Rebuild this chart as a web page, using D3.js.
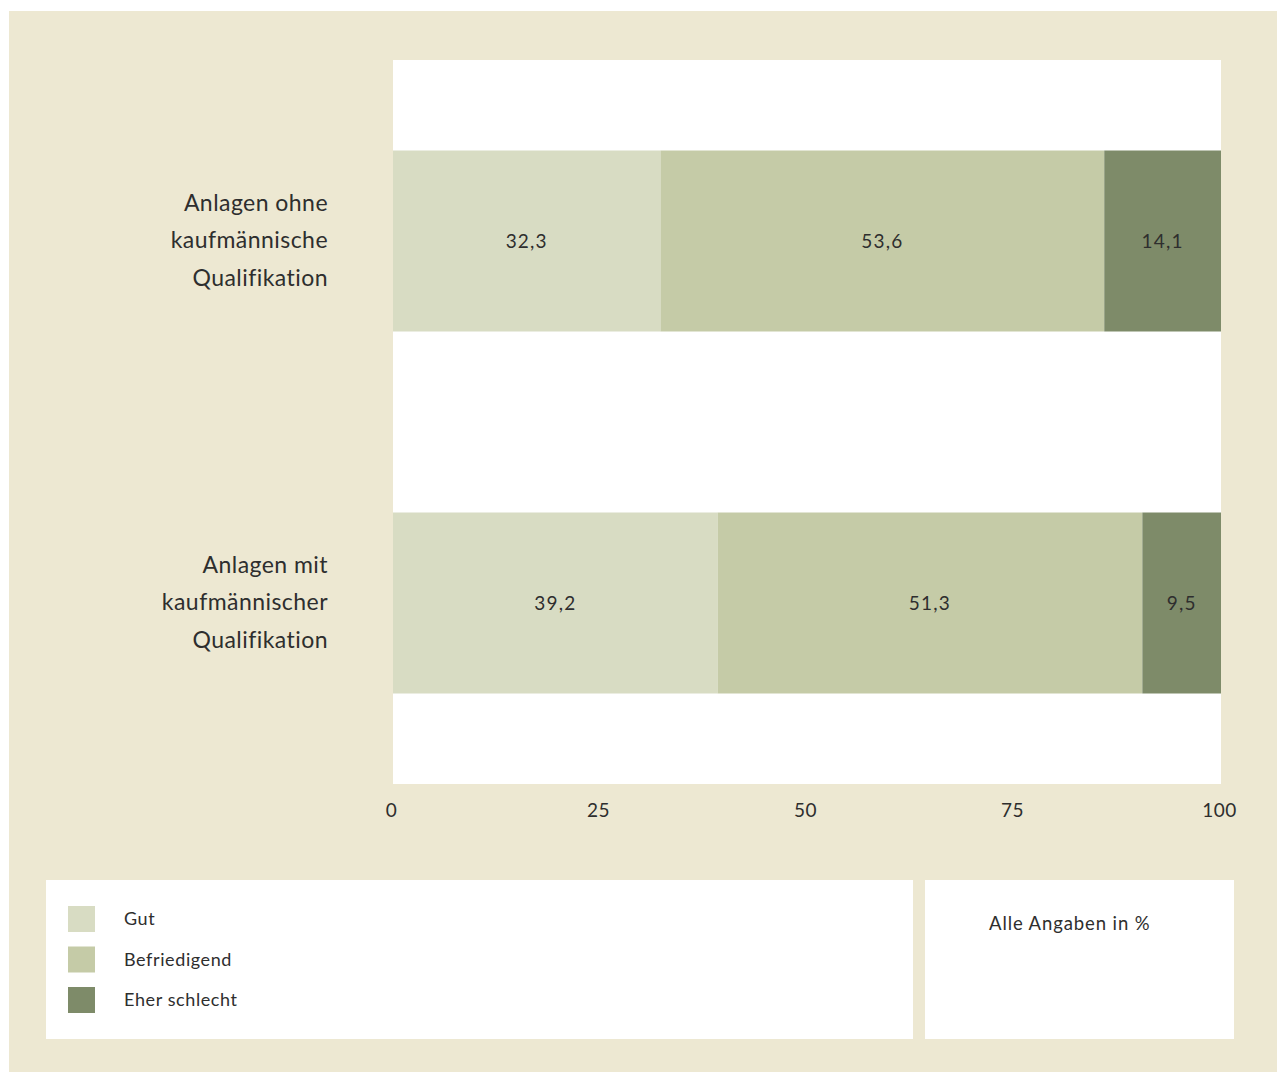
<!DOCTYPE html>
<html>
<head>
<meta charset="utf-8">
<script src="https://cdn.jsdelivr.net/npm/d3@7"></script>
<style>
  html, body { margin: 0; padding: 0; background: #ffffff; }
  svg { display: block; }
  text { font-family: "Lato", "Open Sans", sans-serif; fill: #2e2e2e; }
</style>
</head>
<body>
<svg id="chart" width="1277" height="1072"></svg>
<script>
// Rating shares per group (percent)
const categories = [
  ["Anlagen ohne", "kaufmännische", "Qualifikation"],
  ["Anlagen mit", "kaufmännischer", "Qualifikation"]
];
const seriesNames = ["Gut", "Befriedigend", "Eher schlecht"];
const gut = [32.3, 39.2];
const befriedigend = [53.6, 51.3];
const eherSchlecht = [14.1, 9.5];
const tickValues = [0, 25, 50, 75, 100];
const colors = ["#d8dcc3", "#c5cba7", "#7e8b69"];
const note = "Alle Angaben in %";

const series = [gut, befriedigend, eherSchlecht];
const rows = categories.map((c, i) => ({
  key: i,
  label: c,
  values: series.map(s => s[i])
}));

const svg = d3.select("#chart");

// page background panel
svg.append("rect")
  .attr("x", 9).attr("y", 11)
  .attr("width", 1277 - 9).attr("height", 1072 - 11)
  .attr("fill", "#ede8d2");

const plot = { left: 393, right: 1221, top: 60, bottom: 784 };

svg.append("rect")
  .attr("x", plot.left).attr("y", plot.top)
  .attr("width", plot.right - plot.left).attr("height", plot.bottom - plot.top)
  .attr("fill", "#ffffff");

const x = d3.scaleLinear().domain([0, 100]).range([plot.left, plot.right]);
const y = d3.scaleBand()
  .domain(rows.map(r => r.key))
  .range([plot.top, plot.bottom])
  .paddingInner(0.5)
  .paddingOuter(0.25);

const fmt = v => d3.format(".1f")(v).replace(".", ",");

// stacked segments
const stack = d3.stack().keys([0, 1, 2]).value((d, k) => d.values[k]);
const layers = stack(rows);

const g = svg.append("g");
layers.forEach((layer, li) => {
  const lg = g.append("g");
  lg.selectAll("rect")
    .data(layer)
    .join("rect")
    .attr("x", d => x(d[0]))
    .attr("width", d => x(d[1]) - x(d[0]))
    .attr("y", d => y(d.data.key))
    .attr("height", y.bandwidth())
    .attr("fill", colors[li]);
  lg.selectAll("text")
    .data(layer)
    .join("text")
    .attr("x", d => (x(d[0]) + x(d[1])) / 2)
    .attr("y", d => y(d.data.key) + y.bandwidth() / 2)
    .attr("dy", "0.35em")
    .attr("text-anchor", "middle")
    .attr("font-size", 19)
    .attr("letter-spacing", 1.2)
    .text(d => fmt(d.data.values[li]));
});

// category labels
rows.forEach(r => {
  const cy = y(r.key) + y.bandwidth() / 2;
  const t = svg.append("text")
    .attr("text-anchor", "end")
    .attr("font-size", 23)
    .attr("letter-spacing", 0.45);
  r.label.forEach((line, i) => {
    t.append("tspan")
      .attr("x", 328)
      .attr("y", cy + 7 + (i - 1) * 37.5)
      .text(line);
  });
});

// x axis (labels only)
const axis = d3.axisBottom(x).tickValues(tickValues).tickSize(0).tickPadding(0);
const ax = svg.append("g")
  .attr("transform", `translate(0, ${plot.bottom})`)
  .call(axis);
ax.select(".domain").remove();
ax.selectAll("text")
  .attr("y", 33)
  .attr("dy", 0)
  .attr("dx", -2)
  .attr("font-size", 19)
  .attr("letter-spacing", 0.5)
  .attr("font-family", null)
  .attr("fill", null);

// legend box
svg.append("rect")
  .attr("x", 46).attr("y", 880)
  .attr("width", 913 - 46).attr("height", 1039 - 880)
  .attr("fill", "#ffffff");

const legend = svg.append("g")
  .selectAll("g")
  .data(seriesNames)
  .join("g")
  .attr("transform", (d, i) => `translate(68, ${906 + i * 40.5})`);
legend.append("rect")
  .attr("width", 27).attr("height", 26)
  .attr("fill", (d, i) => colors[i]);
legend.append("text")
  .attr("x", 56).attr("y", 13)
  .attr("dy", "0.35em")
  .attr("font-size", 18)
  .attr("letter-spacing", 0.6)
  .text(d => d);

// note box
svg.append("rect")
  .attr("x", 925).attr("y", 880)
  .attr("width", 1234 - 925).attr("height", 1039 - 880)
  .attr("fill", "#ffffff");
svg.append("text")
  .attr("x", 989).attr("y", 930)
  .attr("font-size", 18.5)
  .attr("letter-spacing", 0.9)
  .text(note);
</script>
</body>
</html>
